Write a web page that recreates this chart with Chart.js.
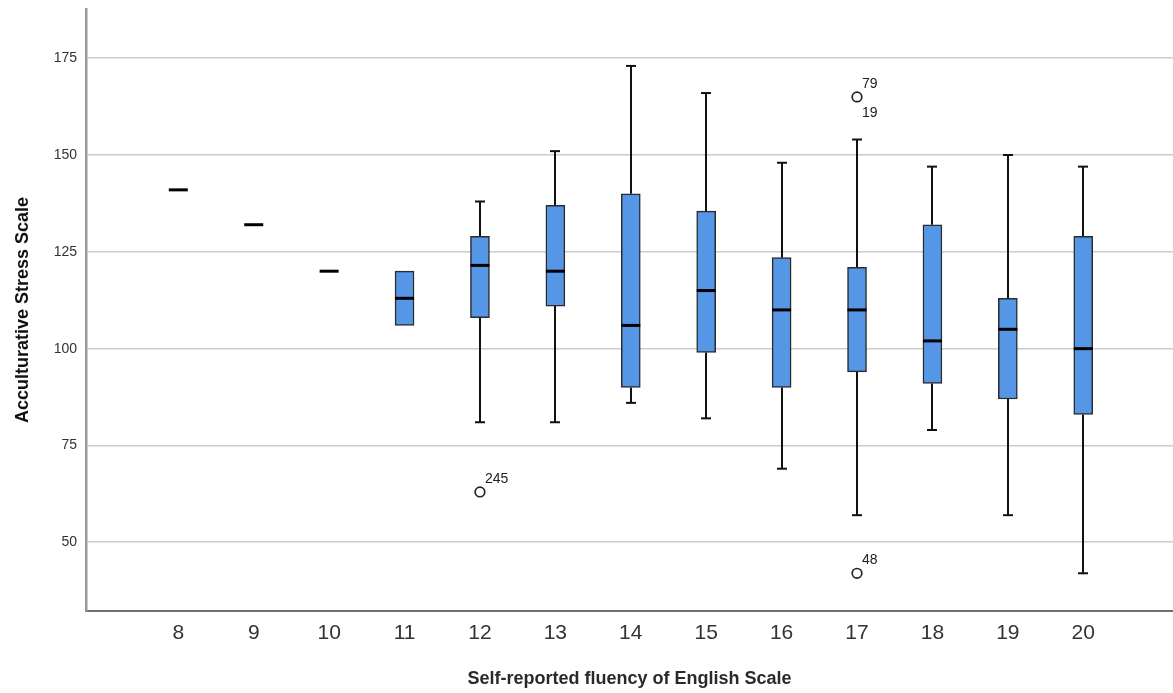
<!DOCTYPE html>
<html>
<head>
<meta charset="utf-8">
<script src="https://cdn.jsdelivr.net/npm/chart.js@4.4.1/dist/chart.umd.min.js"></script>
<style>
html,body{margin:0;padding:0;background:#ffffff;}
#wrap{width:1173px;height:693px;}
</style>
</head>
<body>
<div id="wrap"><canvas id="c" width="1173" height="693"></canvas></div>
<script>
// ---- data ----
const categories  = [8, 9, 10, 11, 12, 13, 14, 15, 16, 17, 18, 19, 20];
const whiskerLow  = [null, null, null, null, 81, 81, 86, 82, 69, 57, 79, 57, 42];
const q1          = [null, null, null, 106, 108, 111, 90, 99, 90, 94, 91, 87, 83];
const median      = [141, 132, 120, 113, 121.5, 120, 106, 115, 110, 110, 102, 105, 100];
const q3          = [null, null, null, 120, 129, 137, 140, 135.5, 123.5, 121, 132, 113, 129];
const whiskerHigh = [null, null, null, null, 138, 151, 173, 166, 148, 154, 147, 150, 147];
const outlierCat  = [12, 17, 17];
const outlierVal  = [63, 165, 42];
const outlierIds  = [['245'], ['79', '19'], ['48']];
const yTicks      = [50, 75, 100, 125, 150, 175];
const xTitle = 'Self-reported fluency of English Scale';
const yTitle = 'Acculturative Stress Scale';

// ---- build datasets ----
const boxData = [];
categories.forEach((c, i) => {
  if (q1[i] !== null && q3[i] !== null) boxData.push({x: c, y: [q1[i], q3[i]]});
});
const outlierData = outlierCat.map((c, i) => ({x: c, y: outlierVal[i]}));

const BOX_W = 19;
const FONT = '"Liberation Sans", Arial, sans-serif';

const boxParts = {
  id: 'boxParts',
  beforeDatasetsDraw(chart) {
    const {ctx, scales: {x, y}} = chart;
    ctx.save();
    ctx.strokeStyle = '#111';
    ctx.lineWidth = 2;
    categories.forEach((c, i) => {
      const px = Math.round(x.getPixelForValue(c));
      if (whiskerHigh[i] !== null) {
        const y1 = y.getPixelForValue(q3[i]);
        const y2 = y.getPixelForValue(whiskerHigh[i]);
        ctx.beginPath(); ctx.moveTo(px, y1); ctx.lineTo(px, y2); ctx.stroke();
        ctx.beginPath(); ctx.moveTo(px - 5, y2); ctx.lineTo(px + 5, y2); ctx.stroke();
      }
      if (whiskerLow[i] !== null) {
        const y1 = y.getPixelForValue(q1[i]);
        const y2 = y.getPixelForValue(whiskerLow[i]);
        ctx.beginPath(); ctx.moveTo(px, y1); ctx.lineTo(px, y2); ctx.stroke();
        ctx.beginPath(); ctx.moveTo(px - 5, y2); ctx.lineTo(px + 5, y2); ctx.stroke();
      }
    });
    ctx.restore();
  },
  afterDatasetsDraw(chart) {
    const {ctx, scales: {x, y}} = chart;
    ctx.save();
    // medians
    ctx.strokeStyle = '#000';
    ctx.lineWidth = 3;
    categories.forEach((c, i) => {
      if (median[i] === null) return;
      const px = x.getPixelForValue(c);
      const py = y.getPixelForValue(median[i]);
      ctx.beginPath();
      ctx.moveTo(px - BOX_W / 2, py);
      ctx.lineTo(px + BOX_W / 2, py);
      ctx.stroke();
    });
    // outlier labels
    ctx.fillStyle = '#222';
    ctx.font = '14px ' + FONT;
    ctx.textAlign = 'left';
    outlierCat.forEach((c, i) => {
      const px = x.getPixelForValue(c);
      const py = y.getPixelForValue(outlierVal[i]);
      const ids = outlierIds[i];
      ctx.textBaseline = 'alphabetic';
      ctx.fillText(ids[0], px + 5, py - 9);
      if (ids.length > 1) {
        ctx.textBaseline = 'top';
        ctx.fillText(ids[1], px + 5, py + 9);
      }
    });
    ctx.restore();
  }
};

new Chart(document.getElementById('c'), {
  type: 'bar',
  data: {
    datasets: [
      {
        type: 'bar',
        data: boxData,
        backgroundColor: '#5596E6',
        borderColor: '#2b2b2b',
        borderWidth: 1.5,
        borderSkipped: false,
        barThickness: BOX_W,
        grouped: false
      },
      {
        type: 'scatter',
        data: outlierData,
        pointRadius: 4.8,
        pointBorderWidth: 1.7,
        pointBorderColor: '#222',
        pointBackgroundColor: '#ffffff'
      }
    ]
  },
  options: {
    responsive: false,
    animation: false,
    devicePixelRatio: 1,
    layout: {autoPadding: false, padding: {left: 12, top: 9, right: 0, bottom: 3}},
    plugins: {legend: {display: false}, tooltip: {enabled: false}},
    scales: {
      x: {
        type: 'linear',
        offset: false,
        min: 6.776,
        max: 21.19,
        afterBuildTicks(scale) { scale.ticks = categories.map(v => ({value: v})); },
        afterFit(scale) { scale.height = 79; scale.paddingLeft = 0; scale.paddingRight = 0; },
        grid: {display: false, drawTicks: false, offset: false},
        border: {display: true, color: '#6e6e6e', width: 2},
        ticks: {
          padding: 10,
          color: '#333',
          font: {family: FONT, size: 21},
          callback: v => String(v)
        },
        title: {
          display: true,
          text: xTitle,
          color: '#2a2a2a',
          padding: 0,
          font: {family: FONT, size: 18, weight: 'bold'}
        }
      },
      y: {
        type: 'linear',
        min: 32.26,
        max: 187.7,
        afterBuildTicks(scale) { scale.ticks = yTicks.map(v => ({value: v})); },
        afterFit(scale) { scale.width = 74; scale.paddingTop = 0; scale.paddingBottom = 0; },
        grid: {color: '#cccccc', lineWidth: 1.6, drawTicks: false},
        border: {display: true, color: '#999999', width: 2.5},
        ticks: {
          padding: 9,
          color: '#333',
          font: {family: FONT, size: 14},
          callback: v => String(v)
        },
        title: {
          display: true,
          text: yTitle,
          color: '#111',
          padding: 0,
          font: {family: FONT, size: 18, weight: 'bold'}
        }
      }
    }
  },
  plugins: [boxParts]
});
</script>
</body>
</html>
